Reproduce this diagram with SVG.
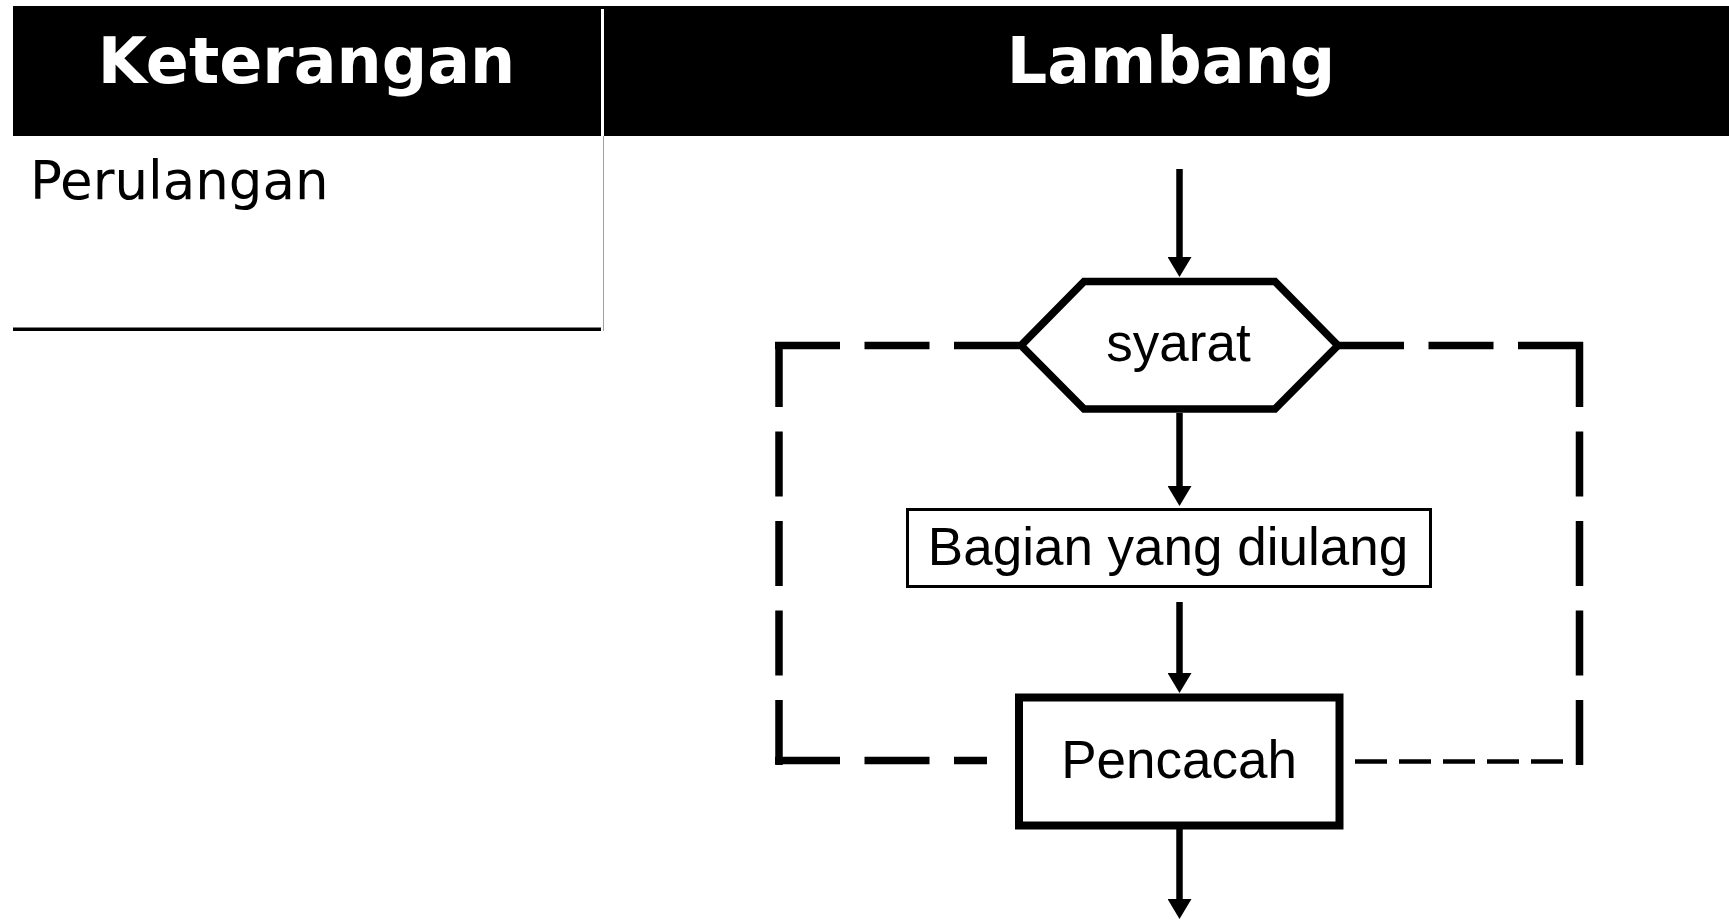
<svg xmlns="http://www.w3.org/2000/svg" width="1729" height="920" viewBox="0 0 1729 920">
  <style>
    .hdr { font-family: "DejaVu Sans", Verdana, sans-serif; font-weight: bold; font-size: 63.5px; fill: #ffffff; text-anchor: middle; }
    .cell { font-family: "DejaVu Sans", Verdana, sans-serif; font-size: 53px; fill: #000000; }
    .lbl { font-family: "Liberation Sans", Arial, sans-serif; font-size: 53px; fill: #000000; text-anchor: middle; }
    .arrow { stroke: #000000; stroke-width: 6.5; fill: none; marker-end: url(#ah); }
    .dash { stroke: #000000; stroke-width: 7.5; fill: none; stroke-dasharray: 65 24.5; stroke-linecap: butt; }
    .dashthin { stroke: #000000; stroke-width: 4.5; fill: none; stroke-dasharray: 32 12; stroke-linecap: butt; }
  </style>
  <defs>
    <marker id="ah" viewBox="0 0 20 24" refX="0" refY="12" markerWidth="20" markerHeight="24" markerUnits="userSpaceOnUse" orient="auto">
      <path d="M0,0 L20,12 L0,24 Z" fill="#000000"/>
    </marker>
  </defs>
  <rect width="1729" height="920" fill="#ffffff"/>

  <g id="table">
    <rect x="13" y="6" width="1716" height="130" fill="#000000"/>
    <rect x="601" y="9" width="3" height="127" fill="#ffffff"/>
    <line x1="603.5" y1="136" x2="603.5" y2="331" stroke="#a0a0a0" stroke-width="1"/>
    <rect x="13" y="327.5" width="588" height="3.5" fill="#000000"/>
    <text class="hdr" x="306.5" y="83">Keterangan</text>
    <text class="hdr" x="1171" y="83">Lambang</text>
    <text class="cell" x="30" y="199">Perulangan</text>
  </g>

  <g id="connectors">
    <line class="arrow" x1="1179.5" y1="169" x2="1179.5" y2="257"/>
    <line class="arrow" x1="1179.5" y1="413" x2="1179.5" y2="486"/>
    <line class="arrow" x1="1179.5" y1="602" x2="1179.5" y2="673"/>
    <line class="arrow" x1="1179.5" y1="829" x2="1179.5" y2="899"/>
    <line class="dash" x1="775" y1="345.5" x2="1019" y2="345.5"/>
    <line class="dash" x1="1583" y1="345.5" x2="1336" y2="345.5"/>
    <line class="dash" x1="779" y1="342" x2="779" y2="765"/>
    <line class="dash" x1="1579.5" y1="342" x2="1579.5" y2="765"/>
    <line class="dash" x1="775" y1="760.5" x2="987" y2="760.5"/>
    <line class="dashthin" x1="1355" y1="761.5" x2="1564" y2="761.5"/>
  </g>

  <g id="node-syarat">
    <polygon points="1021,345.5 1084,281.5 1275,281.5 1338,345.5 1275,409 1084,409" fill="#ffffff" stroke="#000000" stroke-width="7.5" stroke-linejoin="miter"/>
    <text class="lbl" x="1178.5" y="361">syarat</text>
  </g>

  <g id="node-bagian">
    <rect x="907.5" y="509.5" width="523" height="77" fill="#ffffff" stroke="#000000" stroke-width="3"/>
    <text class="lbl" x="1168" y="565">Bagian yang diulang</text>
  </g>

  <g id="node-pencacah">
    <rect x="1019" y="697.5" width="320.5" height="128" fill="#ffffff" stroke="#000000" stroke-width="8"/>
    <text class="lbl" x="1179" y="778">Pencacah</text>
  </g>
</svg>
